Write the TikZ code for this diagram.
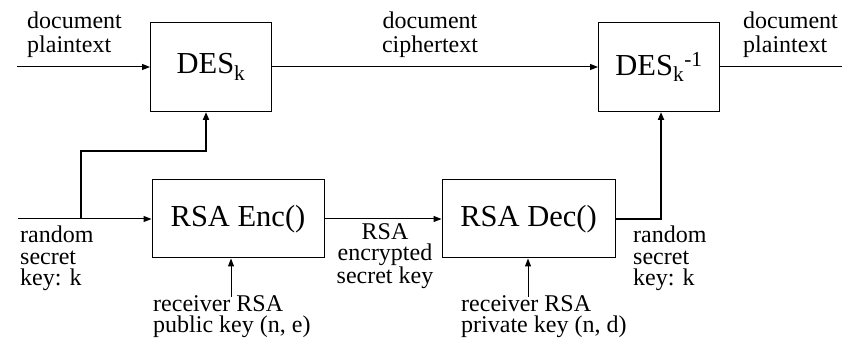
\documentclass[tikz,border=0pt]{standalone}
\usepackage{fontspec}
\setmainfont{Liberation Serif}
\usetikzlibrary{arrows.meta,calc,positioning}
\tikzset{%
	block/.style    = {draw, line width=1pt, rectangle, inner sep=0pt, font=\fontsize{30.5}{32}\selectfont}, % Box
	label/.style    = {inner sep=0pt, align=left, font=\fontsize{24}{24.5}\selectfont}, % Label
	lowlabel/.style = {label, font=\fontsize{24}{21.5}\selectfont}, % Label below
	waypoint/.style = {coordinate}, % Free end
	wire/.style     = {line width=1pt, -{Triangle[length=8pt,width=6pt]}},
	thickwire/.style= {line width=2pt, -{Triangle[length=8pt,width=6pt]}},
}

\begin{document}
\begin{tikzpicture}[x=1pt,y=-1pt]
		\useasboundingbox (0,0) rectangle (843,344);
		% boxes
		\node[block, minimum width=121pt, minimum height=89pt] (des) at (211,67) {DES\textsubscript{k}};
		\node[block, minimum width=121pt, minimum height=89pt] (desinv) at (659,67) {DES\textsubscript{k}\textsuperscript{-1}};
		\node[block, minimum width=172pt, minimum height=78pt] (enc) at (238,219) {RSA Enc()};
		\node[block, minimum width=173pt, minimum height=78pt] (dec) at (528.5,219) {RSA Dec()};
		% free ends
		\node[waypoint] (pin) at (17,67) {};
		\node[waypoint] (pout) at (842,67) {};
		\node[waypoint] (kin) at (18,219) {};
		\node[waypoint] (split) at (81,219) {};
		\node[waypoint] (turn) at (206,151) {};
		\node[waypoint] (pubk) at (231,297) {};
		\node[waypoint] (privk) at (528,297) {};
		% labels (base = last line)
		\node[label, anchor=base west] (plainl) at (27,53) {document\\plaintext};
		\node[label, anchor=base, align=center] (ciph) at (430,53) {document\\ciphertext};
		\node[label, anchor=base west] (plainr) at (743,53) {document\\plaintext};
		\node[lowlabel, anchor=base west] (keyl) at (20,286) {random\\secret\\key: k};
		\node[lowlabel, anchor=base, align=center] (enckey) at (385,283.5) {RSA\\encrypted\\secret key};
		\node[lowlabel, anchor=base west] (keyr) at (633,286) {random\\secret\\key: k};
		\node[lowlabel, anchor=base west] (publ) at (153,333) {receiver RSA\\public key (n, e)};
		\node[lowlabel, anchor=base west] (privl) at (461,333) {receiver RSA\\private key (n, d)};
		% connectors
		\draw[wire] (pin) -- (des);
		\draw[wire] (des) -- (desinv);
		\draw[line width=1pt] (desinv) -- (pout);
		\draw[wire] (kin) -- (enc);
		\draw[thickwire] (split) |- (turn) -- (turn |- des.south);
		\draw[wire] (enc) -- (dec);
		\draw[thickwire] (dec.east) -| ($(desinv.south)+(2,0)$);
		\draw[wire] (pubk) -- (pubk |- enc.south);
		\draw[wire] (privk) -- (privk |- dec.south);
\end{tikzpicture}
\end{document}
